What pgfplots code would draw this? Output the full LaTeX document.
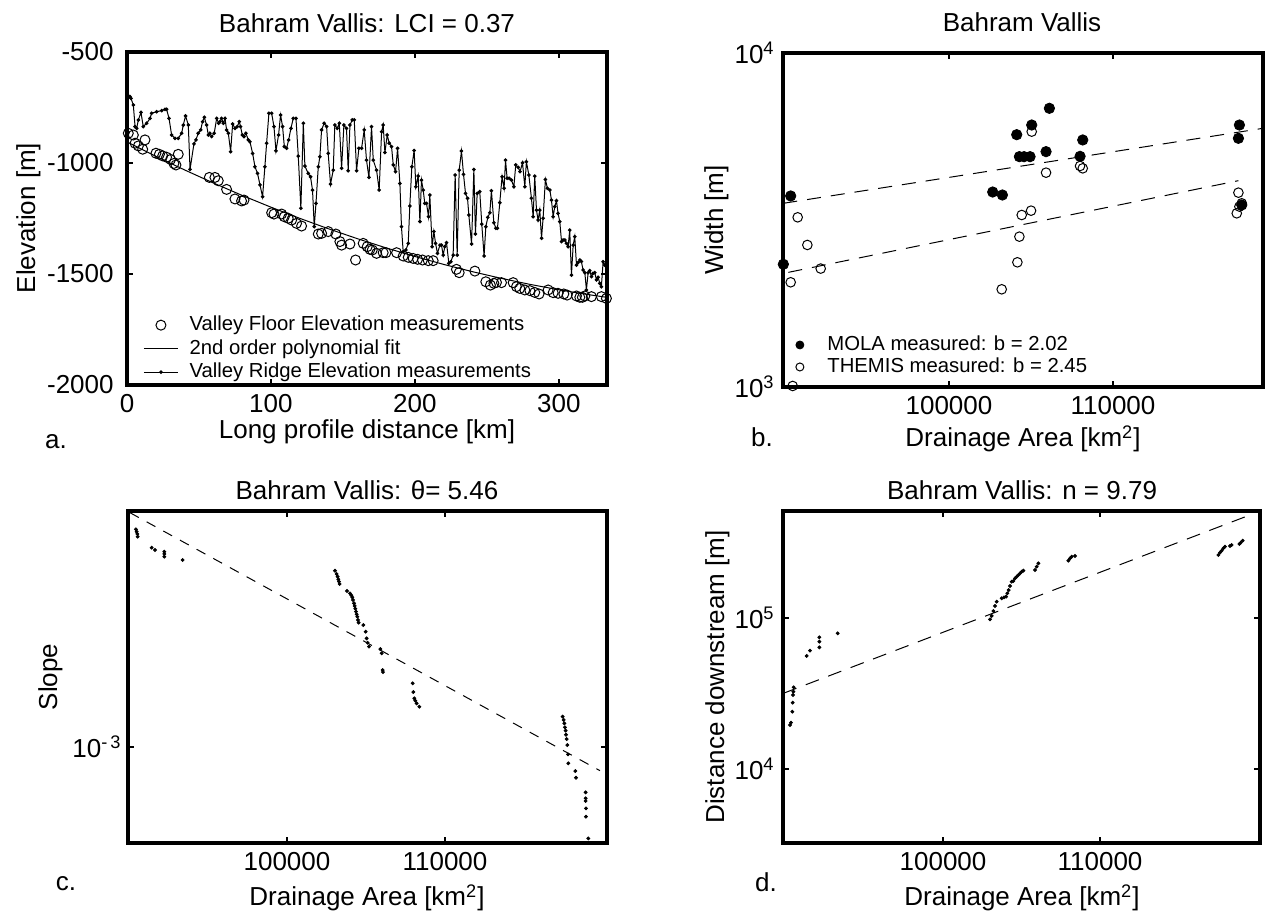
\documentclass[border=0pt]{standalone}
\usepackage{fontspec}
\setmainfont{Liberation Sans}
\usepackage{pgfplots}
\pgfplotsset{compat=1.18}
\newcommand{\mfont}{\fontsize{13}{15.6}\selectfont}
\newcommand{\lfont}{\fontsize{10.15}{12}\selectfont}
\pgfplotsset{
  mybox/.style={
    scale only axis,
    anchor=south west,
    axis line style={line width=1.75pt},
    every tick/.style={line width=0.9pt, black},
    major tick length=3pt,
    minor tick length=0pt,
    tick align=inside,
    /pgf/number format/assume math mode=true,
    tick label style={font=\mfont, inner sep=0pt},
    xticklabel shift=4.5pt,
    yticklabel shift=6.5pt,
    scaled x ticks=false,
  },
}
\begin{document}
\begin{tikzpicture}
\path[use as bounding box] (0pt,0pt) rectangle (632.5pt,460.5pt);

% ---------------- panel a ----------------
\begin{axis}[mybox, at={(63.5pt,268pt)}, width=240pt, height=166.5pt,
  xmin=0, xmax=333.5, ymin=-2000, ymax=-500,
  xtick={0,100,200,300},
  ytick={-2000,-1500,-1000,-500}, yticklabels={-2000,-1500,-1000,-500},
  legend style={draw=none, fill=none, inner sep=0pt,
    at={(axis description cs:0.0333,0.21)}, anchor=north west,
    font=\lfont, row sep=2.05pt,
    nodes={inner sep=0pt, text height=7.6pt, text depth=2.1pt}},
  legend cell align=left]
\addplot[only marks, mark=o, mark size=2.5pt, mark options={line width=0.5pt}] table {
0.9 -866
4.4 -874
5.6 -911
7.9 -923
10.9 -938
12.5 -896
20.1 -956
22.5 -961
24.8 -968
27.5 -974
30.3 -984
32.6 -1002
34.0 -1009
35.6 -961
57.2 -1065
61.1 -1065
63.4 -1080
69.2 -1119
75.0 -1162
79.6 -1171
81.3 -1167
100.5 -1224
102.1 -1230
107.4 -1230
109.3 -1242
112.0 -1249
114.4 -1257
117.8 -1272
121.3 -1284
132.9 -1320
135.2 -1317
139.8 -1309
145.1 -1320
147.9 -1354
149.1 -1370
154.9 -1365
158.8 -1437
164.1 -1362
166.9 -1377
168.8 -1389
170.4 -1392
173.4 -1407
178.0 -1404
179.9 -1404
187.3 -1404
191.9 -1419
195.4 -1425
198.8 -1430
201.9 -1434
205.3 -1437
209.3 -1440
212.7 -1440
228.9 -1479
230.8 -1494
241.7 -1487
249.3 -1535
252.5 -1550
254.9 -1542
256.7 -1538
260.2 -1539
268.3 -1539
270.6 -1557
272.9 -1565
276.4 -1572
279.9 -1575
283.3 -1583
286.3 -1590
292.6 -1572
296.1 -1584
299.5 -1587
303.5 -1590
305.8 -1595
312.3 -1599
314.6 -1605
316.4 -1605
318.1 -1599
322.7 -1602
329.6 -1602
333.1 -1610
};
\addlegendentry{\hspace{5.5pt}Valley Floor Elevation measurements}
\addplot[black, line width=0.5pt, no marks] table {
0 -905
20 -969.6
40 -1031.2
60 -1090.0
80 -1146.0
100 -1199.0
120 -1249.2
140 -1296.4
160 -1340.8
180 -1382.4
200 -1421.0
220 -1456.8
240 -1489.6
260 -1519.6
280 -1546.8
300 -1571.0
320 -1592.4
333 -1604.7
};
\addlegendentry{\hspace{5.5pt}2nd order polynomial fit}
\addplot[black, line width=0.5pt, mark=*, mark size=0.65pt] table {
2.0 -700
2.8 -709
4.4 -739
5.6 -836
6.7 -844
7.9 -806
9.7 -772
11.3 -836
13.7 -821
16.0 -799
17.1 -776
20.6 -769
24.1 -764
26.4 -758
27.5 -758
29.2 -799
31.0 -874
33.3 -889
35.6 -889
38.0 -866
39.1 -829
40.7 -788
42.6 -829
43.8 -1029
46.5 -914
47.9 -896
49.5 -866
51.2 -851
52.5 -814
53.7 -794
55.3 -829
56.5 -874
57.6 -866
58.8 -881
60.6 -866
62.3 -799
63.7 -821
64.6 -814
65.7 -799
66.9 -821
68.1 -799
69.2 -851
70.4 -866
72.0 -949
73.4 -824
75.0 -844
76.6 -836
78.0 -814
78.9 -836
80.1 -874
81.3 -881
82.6 -866
84.3 -896
85.4 -904
87.3 -957
88.9 -1017
90.7 -1047
92.4 -1099
94.2 -1152
95.8 -1017
97.0 -911
98.6 -776
100.5 -776
102.1 -836
103.5 -945
105.3 -874
106.7 -784
108.1 -836
109.3 -926
110.9 -934
112.3 -896
113.9 -844
115.5 -799
117.4 -799
119.0 -969
120.8 -1204
122.5 -821
123.6 -1014
125.9 -1047
127.5 -1062
128.9 -1122
130.1 -1287
131.3 -1182
132.9 -1017
134.0 -972
135.2 -851
137.0 -821
138.7 -836
139.8 -957
141.4 -1095
143.3 -1032
144.4 -829
146.1 -844
147.5 -821
149.1 -1024
150.7 -829
152.5 -844
153.7 -1035
154.9 -829
156.5 -806
157.9 -806
159.5 -1035
161.1 -934
163.0 -934
164.8 -851
166.4 -987
168.1 -1065
169.9 -836
171.1 -987
173.4 -1032
175.2 -1122
176.9 -859
178.0 -829
179.2 -953
180.8 -874
182.2 -911
183.8 -926
185.0 -1009
186.6 -1039
188.0 -934
189.6 -1092
190.7 -1287
191.9 -1400
193.8 -1392
195.4 -1362
196.5 -1194
197.9 -1017
199.5 -944
200.7 -1107
202.3 -1059
203.5 -1264
204.6 -1077
205.8 -1122
206.9 -1182
208.1 -1182
209.5 -1242
210.4 -1144
212.0 -1377
213.2 -1309
214.4 -1362
215.7 -1407
217.4 -1370
218.5 -1370
219.7 -1415
220.8 -1377
222.0 -1359
223.6 -1452
225.0 -1445
226.6 -1415
228.0 -1054
229.4 -1415
230.8 -1032
232.4 -946
233.8 -1051
235.2 -1137
236.6 -1159
237.5 -1234
239.4 -1365
241.0 -1029
242.1 -1320
243.3 -1137
245.1 -1129
246.5 -1275
248.1 -1419
249.3 -1287
250.7 -1245
252.1 -1224
253.2 -1125
254.9 -1269
256.3 -1294
257.4 -1294
259.0 -1179
260.6 -1062
262.0 -1114
263.0 -987
264.1 -1069
265.5 -1069
267.1 -1077
268.8 -1107
270.1 -1009
271.8 -1020
273.1 -1039
274.8 -999
276.4 -1107
277.5 -994
279.2 -1054
281.0 -1159
282.2 -1242
283.3 -1059
284.5 -1212
285.6 -1257
286.8 -1212
288.0 -1339
289.1 -1249
290.7 -1074
292.1 -1114
293.8 -1122
294.9 -1167
296.1 -1242
297.2 -1197
298.4 -1170
299.5 -1227
300.7 -1264
301.9 -1354
303.0 -1347
304.2 -1347
305.3 -1362
306.5 -1377
307.6 -1302
308.8 -1505
310.0 -1370
311.1 -1332
312.3 -1460
313.4 -1449
314.6 -1437
315.7 -1444
316.9 -1482
318.1 -1494
319.2 -1572
320.4 -1494
321.5 -1485
322.7 -1512
323.8 -1497
325.0 -1494
326.2 -1527
327.3 -1515
328.5 -1542
329.6 -1557
330.8 -1445
332.0 -1460
};
\addlegendentry{\hspace{5.5pt}Valley Ridge Elevation measurements}
\end{axis}

% ---------------- panel b ----------------
\begin{axis}[mybox, at={(391.5pt,267pt)}, width=240pt, height=167pt,
  xmin=89877, xmax=119148, ymode=log, ymin=1000, ymax=10000,
  xtick={100000,110000}, xticklabels={100000,110000},
  ytick={1000,10000}, yticklabels={10\textsuperscript{3},10\textsuperscript{4}},
  yticklabel shift=4pt,
  legend style={draw=none, fill=none, inner sep=0pt,
    at={(axis description cs:0.026,0.156)}, anchor=north west,
    font=\lfont, row sep=1.3pt,
    nodes={inner sep=0pt, text height=7.6pt, text depth=2.1pt}},
  legend cell align=left,
  legend image post style={mark size=2pt}]
\addplot[only marks, mark=*, mark size=2.6pt, black] table {
90345 3732
89898 2330
102665 3835
103255 3757
104129 5694
104292 4893
104576 4893
104942 4893
105044 6086
105918 5065
106121 6829
107992 4904
108155 5490
117709 6086
117648 5553
117852 3507
119173 5884
};
\addlegendentry{\hspace{11.75pt}MOLA measured: b = 2.02}
\addplot[only marks, mark=o, mark size=2.4pt, mark options={line width=0.5pt}, black] table {
90772 3221
91362 2662
92175 2262
90345 2058
90467 1007
103214 1961
104170 2362
104292 2819
104434 3273
105003 3372
105044 5815
105918 4382
107992 4588
108155 4515
117648 3818
117547 3311
117709 3468
117852 3548
};
\addlegendentry{\hspace{11.75pt}THEMIS measured: b = 2.45}
\addplot[black, line width=0.5pt, dash pattern=on 7pt off 5pt, forget plot] table {
89898 3548
119173 5952
};
\addplot[black, line width=0.5pt, dash pattern=on 7pt off 5pt, forget plot] table {
90203 2204
117648 4147
};
\end{axis}

% ---------------- panel c ----------------
\begin{axis}[mybox, at={(64pt,39pt)}, width=239.5pt, height=166pt,
  xmin=89937, xmax=120253, ymode=log, ymin=5.607e-4, ymax=4.147e-3,
  xtick={100000,110000}, xticklabels={100000,110000},
  ytick={0.001}, yticklabels={10\textsuperscript{-\,3}},
  yticklabel shift=3pt]
\addplot[black, line width=0.5pt, dash pattern=on 5pt off 4.5pt] table {
90063 4.105e-3
119810 8.670e-4
};
\addplot[only marks, mark=*, mark size=0.75pt, black] table {
90443 3.714e-3
90485 3.662e-3
90527 3.611e-3
90548 3.553e-3
91434 3.325e-3
91645 3.279e-3
92236 3.246e-3
92236 3.201e-3
92236 3.150e-3
93396 3.087e-3
103038 2.894e-3
103143 2.837e-3
103206 2.792e-3
103249 2.747e-3
103291 2.709e-3
103333 2.671e-3
103797 2.561e-3
103987 2.525e-3
104071 2.495e-3
104134 2.465e-3
104176 2.426e-3
104240 2.378e-3
104282 2.340e-3
104324 2.302e-3
104366 2.261e-3
104409 2.225e-3
104451 2.194e-3
104493 2.150e-3
104535 2.116e-3
104831 2.086e-3
104979 2.004e-3
105042 1.925e-3
105105 1.875e-3
105189 1.831e-3
105907 1.805e-3
105991 1.759e-3
106054 1.590e-3
106075 1.571e-3
107953 1.468e-3
107995 1.393e-3
108058 1.341e-3
108121 1.322e-3
108206 1.301e-3
108375 1.275e-3
117447 1.201e-3
117510 1.177e-3
117552 1.153e-3
117594 1.126e-3
117636 1.104e-3
117658 1.077e-3
117700 1.049e-3
117742 1.012e-3
117784 9.568e-4
117805 9.062e-4
118248 8.653e-4
118290 8.311e-4
118902 7.610e-4
118902 7.340e-4
118902 7.223e-4
118923 6.911e-4
118923 6.572e-4
119070 5.765e-4
};
\end{axis}

% ---------------- panel d ----------------
\begin{axis}[mybox, at={(391.5pt,39pt)}, width=238.5pt, height=166pt,
  xmin=89809, xmax=120190, ymode=log, ymin=3236, ymax=5.113e5,
  xtick={100000,110000}, xticklabels={100000,110000},
  ytick={10000,100000}, yticklabels={10\textsuperscript{4},10\textsuperscript{5}},
  yticklabel shift=4pt]
\addplot[black, line width=0.5pt, dash pattern=on 7pt off 5pt] table {
89831 3.171e4
119553 4.810e5
};
\addplot[only marks, mark=*, mark size=0.75pt, black] table {
90256 1.956e4
90319 2.027e4
90404 2.397e4
90425 2.750e4
90446 3.092e4
90468 3.252e4
90489 3.474e4
91317 5.603e4
91529 6.077e4
92124 6.393e4
92124 6.971e4
92124 7.447e4
93291 7.914e4
102994 9.799e4
103100 1.031e5
103206 1.113e5
103312 1.201e5
103418 1.283e5
103737 1.350e5
103885 1.370e5
104013 1.384e5
104098 1.457e5
104182 1.532e5
104267 1.629e5
104374 1.740e5
104480 1.758e5
104586 1.831e5
104692 1.878e5
104798 1.926e5
104904 1.976e5
105010 2.027e5
105117 2.058e5
105860 2.079e5
105966 2.188e5
106072 2.301e5
107983 2.397e5
108089 2.484e5
108195 2.548e5
108407 2.574e5
117536 2.614e5
117642 2.708e5
117748 2.792e5
117855 2.893e5
117961 2.968e5
118279 2.998e5
118385 3.044e5
118873 3.091e5
118958 3.154e5
119085 3.252e5
};
\end{axis}

% ---------------- titles and labels ----------------
\begin{scope}[every node/.style={font=\mfont, inner sep=0pt}]
\node[anchor=base] at (183.5pt,444pt) {Bahram Vallis: LCI = 0.37};
\node[anchor=base] at (511pt,444.5pt) {Bahram Vallis};
\node[anchor=base] at (183.5pt,210.5pt) {Bahram Vallis: θ= 5.46};
\node[anchor=base] at (511pt,210.5pt) {Bahram Vallis: n = 9.79};
\node[anchor=base] at (183.5pt,241pt) {Long profile distance [km]};
\node[anchor=base] at (511.5pt,237pt) {Drainage Area [km\textsuperscript{2}]};
\node[anchor=base] at (183.5pt,7.5pt) {Drainage Area [km\textsuperscript{2}]};
\node[anchor=base] at (511pt,7.5pt) {Drainage Area [km\textsuperscript{2}]};
\node[anchor=base] at (28pt,236pt) {a.};
\node[anchor=base] at (381pt,237pt) {b.};
\node[anchor=base] at (33pt,15pt) {c.};
\node[anchor=base] at (383pt,14.5pt) {d.};
\node[anchor=base, rotate=90] at (17.5pt,351.5pt) {Elevation [m]};
\node[anchor=base, rotate=90] at (361.5pt,350.5pt) {Width [m]};
\node[anchor=base, rotate=90] at (28.5pt,122pt) {Slope};
\node[anchor=base, rotate=90] at (362pt,122pt) {Distance downstream [m]};
\end{scope}
\end{tikzpicture}
\end{document}
